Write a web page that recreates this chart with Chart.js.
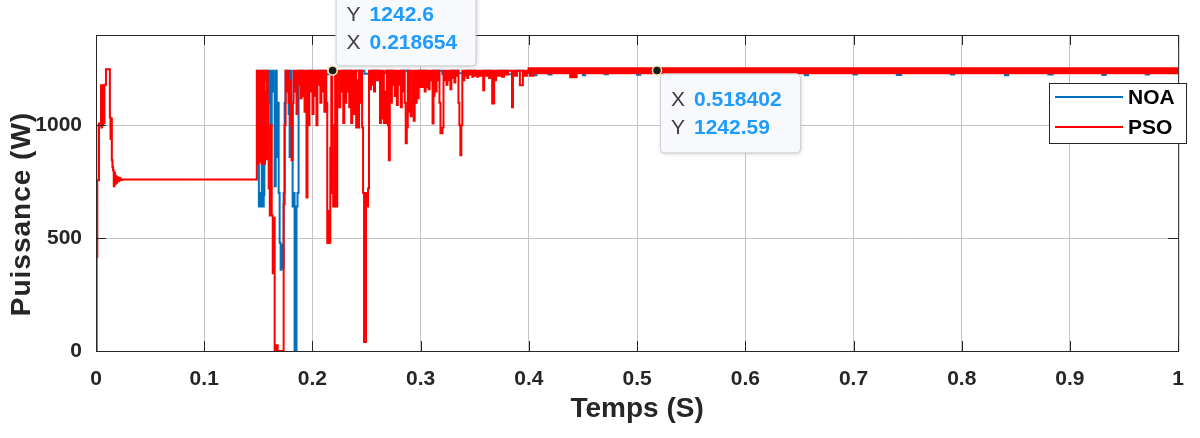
<!DOCTYPE html>
<html>
<head>
<meta charset="utf-8">
<script src="https://cdn.jsdelivr.net/npm/chart.js@4.4.1/dist/chart.umd.min.js"></script>
<style>
  html, body { margin: 0; padding: 0; background: #fff; }
  #wrap { width: 1200px; height: 438px; position: relative; }
</style>
</head>
<body>
<div id="wrap"><canvas id="powerChart"></canvas></div>
<script>
// ---- data ----
const seriesNames = ["NOA", "PSO"];
const seriesColors = ["#0072BD", "#FF0000"];

const xTickValues = [0, 0.1, 0.2, 0.3, 0.4, 0.5, 0.6, 0.7, 0.8, 0.9, 1];
const xTickLabels = ["0", "0.1", "0.2", "0.3", "0.4", "0.5", "0.6", "0.7", "0.8", "0.9", "1"];
const yTickValues = [0, 500, 1000];
const yTickLabels = ["0", "500", "1000"];

// datatips
const tipX = [0.218654, 0.518402];
const tipY = [1242.6, 1242.59];

// PSO (time in s, power in W)
const psoTime = [
  0, 0.0006, 0.0012, 0.0028, 0.0046, 0.005, 0.0055, 0.006, 0.0066, 0.0072, 0.0078, 0.0092,
  0.0128, 0.0134, 0.014, 0.0146, 0.0152, 0.0158, 0.0164, 0.017, 0.0176, 0.0182, 0.0188, 0.0196,
  0.0205, 0.0215, 0.0225, 0.024,
  0.1486, 0.1492, 0.1498, 0.1504, 0.151, 0.1516, 0.1523, 0.153, 0.1536, 0.1545, 0.155, 0.1556,
  0.1562, 0.157, 0.1578, 0.1587, 0.1596, 0.1606, 0.1615, 0.1624, 0.1633, 0.1642, 0.1651, 0.1665,
  0.1679, 0.1734, 0.1743, 0.1752, 0.1761, 0.1771, 0.178, 0.1789, 0.1798, 0.1807, 0.1817, 0.1826,
  0.1835, 0.1844, 0.1853, 0.1862, 0.1872, 0.188, 0.189, 0.19, 0.1908, 0.1918, 0.1927, 0.1936,
  0.1945, 0.1954, 0.1963, 0.1972, 0.1982, 0.199, 0.2, 0.201, 0.2018, 0.2028, 0.2037, 0.2046,
  0.2055, 0.2064, 0.2073, 0.2083, 0.2092, 0.21, 0.211, 0.212, 0.2128, 0.2137, 0.2147, 0.2156,
  0.2165, 0.2174, 0.2183, 0.2192, 0.2202, 0.221, 0.222, 0.2229, 0.2239, 0.2248, 0.2257, 0.2266,
  0.2275, 0.2285, 0.2294, 0.2303, 0.2312, 0.2321, 0.233, 0.234, 0.2349, 0.2358, 0.2367, 0.2376,
  0.2385, 0.2394, 0.2404, 0.2413, 0.2422, 0.2431, 0.244, 0.245, 0.2459, 0.2468, 0.2477, 0.2486,
  0.2495, 0.2504, 0.2514, 0.2523, 0.2532, 0.2541, 0.255, 0.256, 0.2569, 0.2578, 0.2596, 0.2615,
  0.2624, 0.2633, 0.2642, 0.2651, 0.266, 0.267, 0.2679, 0.2688, 0.2697, 0.2706, 0.2715, 0.2725,
  0.2734, 0.2743, 0.2752, 0.2761, 0.277, 0.278, 0.2789, 0.2798, 0.2807, 0.2817, 0.2826, 0.2835,
  0.2844, 0.2853, 0.2862, 0.2872, 0.2881, 0.289, 0.29, 0.2908, 0.2917, 0.2927, 0.2936, 0.2945,
  0.2954, 0.2963, 0.2972, 0.2982, 0.2991, 0.3, 0.3018, 0.3028, 0.3037, 0.3046, 0.3055, 0.3064,
  0.3073, 0.3083, 0.3092, 0.3101, 0.311, 0.3119, 0.3128, 0.3138, 0.3147, 0.3156, 0.3165, 0.3174,
  0.3183, 0.3193, 0.3202, 0.3211, 0.322, 0.3229, 0.3239, 0.3248, 0.3257, 0.3266, 0.3275, 0.3284,
  0.3294, 0.3303, 0.3312, 0.3321, 0.333, 0.334, 0.3349, 0.3358, 0.3367, 0.3376, 0.3385, 0.3394,
  0.3404, 0.3413, 0.3422, 0.3431, 0.344, 0.345, 0.346, 0.3477, 0.3486, 0.3495, 0.3505, 0.3523,
  0.3532, 0.355, 0.3569, 0.3578, 0.3587, 0.3606, 0.3615, 0.3633, 0.3642, 0.3661, 0.3679, 0.3688,
  0.3697, 0.3716, 0.3734, 0.3752, 0.377, 0.3789, 0.3807, 0.3844, 0.3853, 0.3872, 0.389, 0.3917,
  0.3945, 0.3963, 0.3982, 0.4, 0.402, 0.4405, 0.4418, 1.0
];
const psoPower = [
  0, 416, 757, 1008, 1177, 990, 1177, 1000, 1160, 1010, 1180, 1248,
  1035, 940, 1030, 845, 815, 800, 730, 790, 740, 775, 745, 770,
  752, 766, 758, 760,
  1242, 830, 1242, 900, 1242, 840, 1200, 830, 1242, 1000, 1242, 830,
  1150, 850, 1242, 1100, 720, 600, 1000, 600, 345, 590, 0, 25,
  0, 650, 1000, 1242, 1150, 1242, 1100, 1200, 1000, 845, 1100, 1242,
  1150, 1242, 1050, 1242, 1180, 1242, 1120, 1242, 1130, 1242, 1060, 1242,
  680, 1242, 1000, 1242, 1150, 1242, 1050, 1242, 1130, 1242, 1000, 1242,
  1180, 1242, 1100, 1242, 1150, 1242, 1060, 1242, 1100, 478, 620, 480,
  900, 1242, 700, 640, 1000, 1242, 640, 1200, 1242, 1080, 1242, 1150,
  1242, 1010, 1242, 1100, 1242, 1150, 1242, 1080, 1242, 1010, 1150, 1242,
  1050, 1242, 990, 1200, 990, 1242, 1100, 1242, 990, 700, 40, 40,
  700, 640, 720, 1242, 1160, 1242, 1180, 1242, 1150, 1242, 1200, 1242,
  1010, 1242, 1030, 1242, 1010, 1150, 1010, 1242, 1000, 845, 1242, 1100,
  1242, 1180, 1242, 1130, 1242, 1090, 1242, 1180, 1242, 1080, 1242, 1150,
  1242, 1100, 920, 990, 1242, 1060, 1242, 1040, 1100, 1242, 1020, 1242,
  1100, 1242, 1120, 1242, 1170, 1242, 1170, 1242, 1150, 1242, 1170, 1242,
  1160, 1242, 1200, 1242, 1008, 1130, 1242, 1150, 1242, 1200, 1242, 1100,
  965, 965, 990, 1242, 1200, 1242, 1180, 1242, 1200, 1242, 1160, 1242,
  1210, 1242, 1190, 1242, 1220, 1242, 1100, 1000, 867, 1000, 1242, 1200,
  1242, 1220, 1242, 1210, 1242, 1225, 1242, 1215, 1242, 1220, 1242, 1215,
  1242, 1220, 1242, 1155, 1242, 1220, 1242, 1210, 1242, 1097, 1242, 1200,
  1242, 1220, 1242, 1215, 1242, 1225, 1242, 1080, 1242, 1220, 1242, 1177,
  1242, 1220, 1242, 1230, 1242, 1224, 1242, 1242
];

// NOA (time in s, power in W)
const noaTime = [
  0, 0.0004, 0.0008, 0.0028, 0.0046, 0.005, 0.0055, 0.006, 0.0066, 0.0072, 0.0078, 0.0092,
  0.0128, 0.0134, 0.014, 0.0146, 0.0152, 0.0158, 0.0164, 0.017, 0.0176, 0.0182, 0.0188, 0.0196,
  0.0205, 0.0215, 0.0225, 0.024,
  0.1486, 0.1495, 0.1505, 0.1514, 0.1523, 0.1532, 0.1541, 0.155, 0.1556, 0.1569, 0.1578, 0.1596,
  0.1606, 0.1615, 0.1624, 0.1642, 0.1651, 0.1661, 0.167, 0.1679, 0.1688, 0.1697, 0.1706, 0.1716,
  0.1725, 0.1734, 0.1743, 0.1752, 0.178, 0.1789, 0.1798, 0.1807, 0.1817, 0.1826, 0.1835, 0.1853,
  0.1862, 0.1872, 0.192, 0.196, 0.2, 0.205, 0.212, 0.216, 0.222, 0.228, 0.235, 0.24,
  0.248, 0.255, 0.262, 0.268, 0.275, 0.282, 0.29, 0.298, 0.305, 0.312, 0.32, 0.328,
  0.335, 0.342, 0.35, 0.358, 0.365, 0.372, 0.38, 0.388, 0.395, 0.4, 0.405, 0.407,
  0.418, 0.421, 0.45, 0.452, 0.47, 0.473, 0.5, 0.503, 0.53, 0.532, 0.57, 0.575,
  0.61, 0.613, 0.655, 0.658, 0.7, 0.703, 0.74, 0.744, 0.79, 0.793, 0.84, 0.843,
  0.88, 0.884, 0.93, 0.933, 0.97, 0.973, 1.0
];
const noaPower = [
  0, 416, 1000, 1008, 1177, 990, 1177, 1000, 1160, 1010, 1180, 1248,
  1035, 940, 1030, 845, 815, 800, 730, 790, 740, 775, 745, 770,
  752, 766, 758, 760,
  1242, 900, 640, 700, 640, 1242, 640, 690, 1242, 1200, 1242, 1100,
  1242, 1000, 1242, 1150, 730, 1242, 860, 1100, 700, 480, 360, 470,
  370, 700, 1100, 1242, 1050, 860, 1242, 1100, 640, 700, 0, 640,
  700, 1242, 1228, 1242, 1232, 1242, 1226, 1242, 1230, 1242, 1226, 1242,
  1228, 1242, 1230, 1242, 1226, 1242, 1230, 1242, 1228, 1242, 1226, 1242,
  1230, 1242, 1226, 1242, 1228, 1242, 1226, 1242, 1230, 1242, 1222, 1242,
  1225, 1242, 1222, 1242, 1226, 1242, 1224, 1242, 1222, 1242, 1225, 1242,
  1224, 1242, 1222, 1242, 1225, 1242, 1223, 1242, 1225, 1242, 1222, 1242,
  1225, 1242, 1223, 1242, 1225, 1242, 1242
];

const FONT = "'Liberation Sans', Arial, Helvetica, sans-serif";
const INK = "#262626";

function toPoints(times, values) {
  return times.map((t, i) => ({ x: t, y: values[i] }));
}

// frame, inward ticks, y title, legend and datatips (MATLAB look)
const figureDecor = {
  id: "figureDecor",
  afterDraw(chart) {
    const { ctx, chartArea: a, scales } = chart;
    const x = scales.x, y = scales.y;
    ctx.save();

    ctx.strokeStyle = INK;
    ctx.lineWidth = 1;
    ctx.beginPath();
    xTickValues.forEach((v) => {
      const px = Math.round(x.getPixelForValue(v)) + 0.5;
      ctx.moveTo(px, a.bottom); ctx.lineTo(px, a.bottom - 10);
      ctx.moveTo(px, a.top); ctx.lineTo(px, a.top + 10);
    });
    yTickValues.forEach((v) => {
      const py = Math.round(y.getPixelForValue(v)) + 0.5;
      ctx.moveTo(a.left, py); ctx.lineTo(a.left + 10, py);
      ctx.moveTo(a.right, py); ctx.lineTo(a.right - 10, py);
    });
    ctx.stroke();
    ctx.strokeRect(a.left + 0.5, a.top + 0.5, a.right - a.left, a.bottom - a.top);

    // y axis title
    ctx.save();
    ctx.translate(22, 214);
    ctx.rotate(-Math.PI / 2);
    ctx.fillStyle = INK;
    ctx.font = "bold 28px " + FONT;
    ctx.letterSpacing = "1px";
    ctx.textAlign = "center";
    ctx.textBaseline = "middle";
    ctx.fillText("Puissance (W)", 0, 0);
    ctx.restore();

    // legend
    const lx = 1049, ly = 83, lw = 137, lh = 60;
    ctx.fillStyle = "#fff";
    ctx.fillRect(lx, ly, lw, lh);
    ctx.strokeStyle = INK;
    ctx.strokeRect(lx + 0.5, ly + 0.5, lw, lh);
    ctx.font = "bold 21px " + FONT;
    ctx.textBaseline = "middle";
    ctx.textAlign = "left";
    seriesNames.forEach((name, i) => {
      const rowY = ly + 14 + i * 30;
      ctx.strokeStyle = seriesColors[i];
      ctx.lineWidth = 2;
      ctx.beginPath();
      ctx.moveTo(lx + 6, rowY); ctx.lineTo(lx + 74, rowY);
      ctx.stroke();
      ctx.fillStyle = "#000";
      ctx.fillText(name, lx + 79, rowY + 1);
    });

    // datatips
    tipX.forEach((tx, i) => {
      const dx = x.getPixelForValue(tx);
      const dy = y.getPixelForValue(tipY[i]);
      const above = i === 0;
      const bx = dx + 3, bw = 140;
      const by = above ? dy - 95 : dy + 3;
      const bh = above ? 90 : 79;
      ctx.save();
      ctx.shadowColor = "rgba(0,0,0,0.2)";
      ctx.shadowBlur = 4;
      ctx.shadowOffsetX = 1;
      ctx.shadowOffsetY = 1;
      ctx.beginPath();
      ctx.roundRect(bx, by, bw, bh, 4);
      ctx.fillStyle = "#f8f9fc";
      ctx.fill();
      ctx.restore();
      ctx.strokeStyle = "#cdd0d6";
      ctx.lineWidth = 1;
      ctx.beginPath();
      ctx.roundRect(bx + 0.5, by + 0.5, bw, bh, 4);
      ctx.stroke();

      const rows = above
        ? [["Y", String(tipY[i]), dy - 55], ["X", String(tx), dy - 27]]
        : [["X", String(tx), dy + 30], ["Y", String(tipY[i]), dy + 58]];
      rows.forEach(([lab, val, ry]) => {
        ctx.fillStyle = "#404040";
        ctx.font = "21px " + FONT;
        ctx.fillText(lab, bx + 11, ry);
        ctx.fillStyle = "#1E9BFF";
        ctx.font = "bold 21px " + FONT;
        ctx.fillText(val, bx + 34, ry);
      });

      ctx.beginPath();
      ctx.arc(dx, dy, 4.5, 0, Math.PI * 2);
      ctx.fillStyle = "#1a1a1a";
      ctx.fill();
      ctx.strokeStyle = "#e9e7b4";
      ctx.lineWidth = 1.5;
      ctx.stroke();
    });

    ctx.restore();
  }
};

new Chart(document.getElementById("powerChart"), {
  type: "line",
  data: {
    datasets: [
      {
        label: seriesNames[0],
        data: toPoints(noaTime, noaPower),
        borderColor: seriesColors[0],
        borderWidth: 2,
        stepped: true,
        pointRadius: 0,
        order: 2,
        segment: {
          // start-up overlaps PSO exactly; keep it thin so it stays hidden
          borderWidth: (c) => (c.p1.parsed.x <= 0.1486 ? 1 : undefined),
        },
      },
      {
        label: seriesNames[1],
        data: toPoints(psoTime, psoPower),
        borderColor: seriesColors[1],
        borderWidth: 2,
        stepped: true,
        pointRadius: 0,
        order: 1,
        segment: {
          borderWidth: (c) => (c.p0.parsed.x >= 0.4 ? 7 : undefined),
        },
      },
    ],
  },
  options: {
    responsive: true,
    maintainAspectRatio: false,
    animation: false,
    devicePixelRatio: 1,
    layout: { padding: { top: 35, right: 14, left: 0, bottom: 0 } },
    plugins: {
      legend: { display: false },
      tooltip: { enabled: false },
    },
    scales: {
      x: {
        type: "linear",
        min: 0,
        max: 1,
        afterBuildTicks: (s) => { s.ticks = xTickValues.map((v) => ({ value: v })); },
        afterFit: (s) => { s.height = 87; },
        grid: { color: "#c4c4c4", drawTicks: false },
        border: { display: false },
        ticks: {
          padding: 16,
          color: INK,
          autoSkip: false,
          maxRotation: 0,
          font: { family: FONT, size: 21, weight: "bold" },
          callback: (v, i) => xTickLabels[i],
        },
        title: {
          display: true,
          text: "Temps (S)",
          color: INK,
          font: { family: FONT, size: 28, weight: "bold" },
          padding: { top: 0, bottom: 12 },
        },
      },
      y: {
        type: "linear",
        min: 0,
        max: 1400,
        afterBuildTicks: (s) => { s.ticks = yTickValues.map((v) => ({ value: v })); },
        afterFit: (s) => { s.width = 96; },
        grid: { color: "#c4c4c4", drawTicks: false },
        border: { display: false },
        ticks: {
          padding: 14,
          color: INK,
          font: { family: FONT, size: 21, weight: "bold" },
          callback: (v, i) => yTickLabels[i],
        },
      },
    },
  },
  plugins: [figureDecor],
});
</script>
</body>
</html>
